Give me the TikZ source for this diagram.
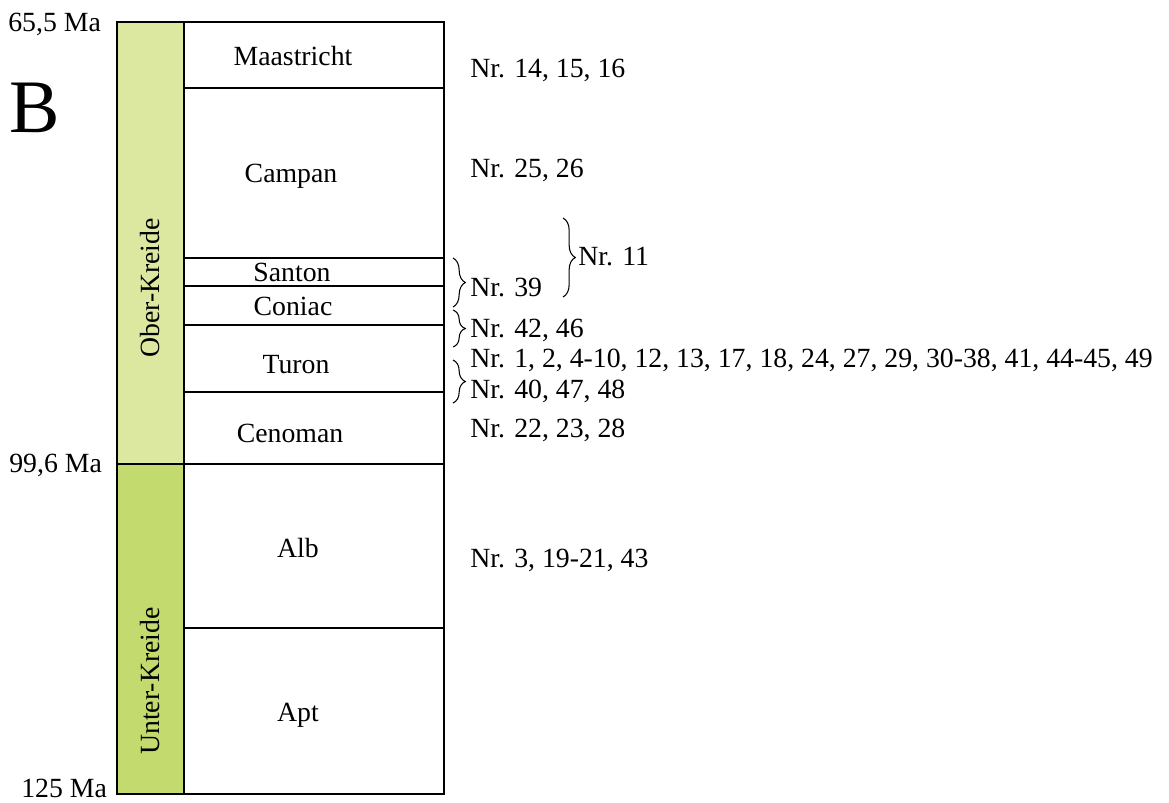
\documentclass[tikz,border=0pt]{standalone}
\usepackage{fontspec}
\setmainfont{Liberation Serif}
\usetikzlibrary{decorations.pathreplacing}
\definecolor{oberc}{RGB}{220,232,160}
\definecolor{unterc}{RGB}{194,218,110}
\begin{document}
\begin{tikzpicture}[x=0.02cm,y=-0.02cm,
  lbl/.style={font=\fontsize{15.8}{18}\selectfont, inner sep=0pt, anchor=base},
  nr/.style={lbl, anchor=base west},
  frame/.style={line width=1.2pt},
  sep/.style={line width=0.6pt},
  br/.style={decorate, decoration={brace, amplitude=7pt}, line width=0.6pt}]
\useasboundingbox (0,0) rectangle (1169,802);
% columns
\fill[oberc] (117,22) rectangle (184,464);
\fill[unterc] (117,464) rectangle (184,794);
\draw[sep] (184,22) -- (184,794);
\draw[sep] (184,88) -- (444,88);
\draw[sep] (184,258) -- (444,258);
\draw[sep] (184,286) -- (444,286);
\draw[sep] (184,325) -- (444,325);
\draw[sep] (184,392) -- (444,392);
\draw[sep] (117,464) -- (444,464);
\draw[sep] (184,628) -- (444,628);
\draw[frame] (117,22) rectangle (444,794);
% ages
\node[lbl, anchor=base west] (a1) at (8,31) {65,5 Ma};
\node[lbl, anchor=base west] (a2) at (9,472) {99,6 Ma};
\node[lbl, anchor=base west] (a3) at (21,797) {125 Ma};
\node[inner sep=0pt, anchor=base west, font=\fontsize{43}{50}\selectfont] (B) at (9,132) {B};
% eras
\node[lbl, anchor=center, rotate=90] (ober) at (150,288) {Ober-Kreide};
\node[lbl, anchor=center, rotate=90] (unter) at (150,681) {Unter-Kreide};
% stages
\node[lbl] (s1) at (293,65) {Maastricht};
\node[lbl] (s2) at (291,182) {Campan};
\node[lbl] (s3) at (292,281) {Santon};
\node[lbl] (s4) at (293,315) {Coniac};
\node[lbl] (s5) at (296,373) {Turon};
\node[lbl] (s6) at (290,442) {Cenoman};
\node[lbl] (s7) at (298,557) {Alb};
\node[lbl] (s8) at (298,721) {Apt};
% numbers
\node[nr] (n1) at (470,77) {Nr. 14, 15, 16};
\node[nr] (n2) at (470,177) {Nr. 25, 26};
\node[nr] (n3) at (578,265) {Nr. 11};
\node[nr] (n4) at (470,296) {Nr. 39};
\node[nr] (n5) at (470,337) {Nr. 42, 46};
\node[nr] (n6) at (470,367) {Nr. 1, 2, 4-10, 12, 13, 17, 18, 24, 27, 29, 30-38, 41, 44-45, 49};
\node[nr] (n7) at (470,398) {Nr. 40, 47, 48};
\node[nr] (n8) at (470,437) {Nr. 22, 23, 28};
\node[nr] (n9) at (470,567) {Nr. 3, 19-21, 43};
% braces
\draw[br] (453,258) -- (453,307);
\draw[br] (453,310) -- (453,347);
\draw[br] (453,360) -- (453,403);
\draw[br] (563,218) -- (563,297);
\end{tikzpicture}
\end{document}
